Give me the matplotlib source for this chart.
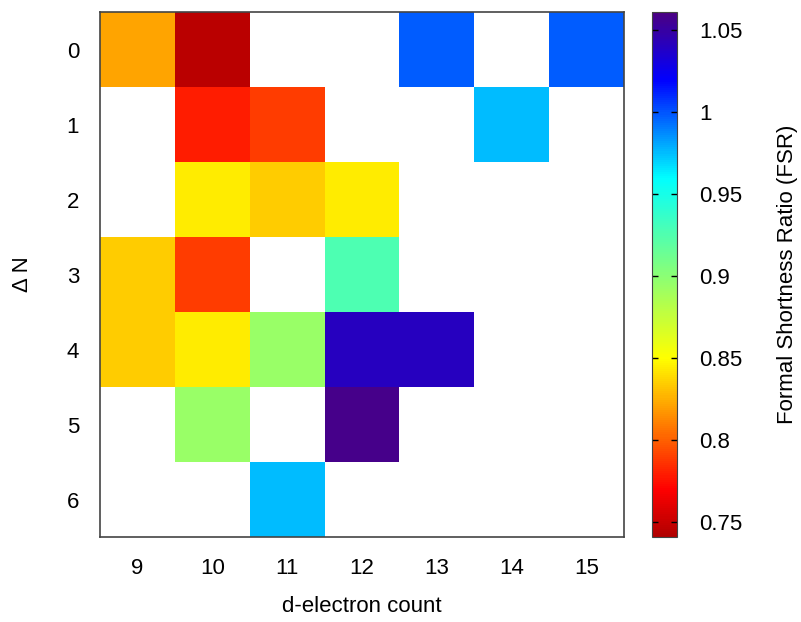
import numpy as np
import matplotlib
matplotlib.use('Agg')
import matplotlib.pyplot as plt
from matplotlib.colors import LinearSegmentedColormap

plt.rcParams['font.family'] = ['Liberation Sans', 'DejaVu Sans']
plt.rcParams['font.size'] = 16

# d-electron count (columns) and Delta N (rows)
d_count = [9, 10, 11, 12, 13, 14, 15]
delta_n = [0, 1, 2, 3, 4, 5, 6]
nan = np.nan
# FSR values, row = Delta N, column = d-electron count
fsr = np.array([
    [0.822, 0.745, nan,   nan,   0.998, nan,   0.998],
    [nan,   0.779, 0.789, nan,   nan,   0.975, nan],
    [nan,   0.844, 0.834, 0.844, nan,   nan,   nan],
    [0.834, 0.789, nan,   0.927, nan,   nan,   nan],
    [0.834, 0.844, 0.894, 1.040, 1.040, nan,   nan],
    [nan,   0.894, nan,   1.058, nan,   nan,   nan],
    [nan,   nan,   0.975, nan,   nan,   nan,   nan],
])
cbar_ticks = [0.75, 0.8, 0.85, 0.9, 0.95, 1.0, 1.05]
cbar_labels = ['0.75', '0.8', '0.85', '0.9', '0.95', '1', '1.05']
vmin, vmax = 0.741, 1.061

# jet-like palette with purple on top
anchors = [(0.741, '#b00000'), (0.770, '#ff0000'), (0.850, '#ffff00'),
           (0.905, '#80ff80'), (0.960, '#00ffff'), (1.020, '#0000ff'),
           (1.061, '#4b0082')]
cmap = LinearSegmentedColormap.from_list(
    'fsr', [((v - vmin) / (vmax - vmin), c) for v, c in anchors])

fig = plt.figure(figsize=(8.01, 6.22), dpi=100)
ax = fig.add_axes([100 / 801, 1 - 537 / 622, 524 / 801, 525 / 622])
cax = fig.add_axes([652 / 801, 1 - 537 / 622, 25 / 801, 525 / 622])

x_edges = np.arange(len(d_count) + 1) - 0.5
y_edges = np.arange(len(delta_n) + 1) - 0.5
mesh = ax.pcolormesh(x_edges, y_edges, np.ma.masked_invalid(fsr),
                     cmap=cmap, vmin=vmin, vmax=vmax)
ax.set_xlim(-0.5, len(d_count) - 0.5)
ax.set_ylim(len(delta_n) - 0.5, -0.5)
ax.set_xticks(range(len(d_count)))
ax.set_xticklabels([str(d) for d in d_count])
ax.set_yticks(range(len(delta_n)))
ax.set_yticklabels([str(n) for n in delta_n])
ax.tick_params(length=0)
ax.tick_params(axis='x', pad=15)
ax.tick_params(axis='y', pad=15)
for s in ax.spines.values():
    s.set_color('#444444')
    s.set_linewidth(1.2)
ax.set_xlabel('d-electron count')
ax.set_ylabel('Δ N')
ax.xaxis.set_label_coords(0.5, (537 - 607) / 525)
ax.xaxis.label.set_va('center')
ax.yaxis.set_label_coords((23 - 100) / 524, 0.5)
ax.yaxis.label.set_va('center')

cb = fig.colorbar(mesh, cax=cax)
cb.set_ticks(cbar_ticks)
cb.set_ticklabels(cbar_labels)
cb.outline.set_color('#444444')
cb.ax.tick_params(direction='in', length=4, width=1, left=True, right=True,
                  labelleft=False, labelright=True, pad=16)
cb.set_label('Formal Shortness Ratio (FSR)')
cb.ax.yaxis.set_label_coords((787 - 652) / 25, 0.5)
cb.ax.yaxis.label.set_va('center')

fig.savefig('out.png', dpi=100)
